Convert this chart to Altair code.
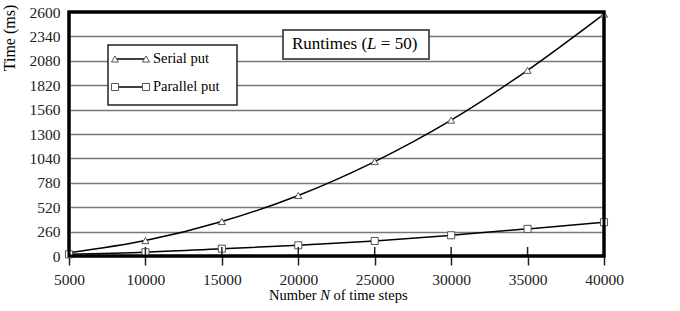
import altair as alt
import pandas as pd

steps = [5000, 10000, 15000, 20000, 25000, 30000, 35000, 40000]
serial_put = [35, 164, 367, 645, 1006, 1448, 1979, 2578]
parallel_put = [18, 40, 78, 114, 160, 221, 289, 360]
series_names = ["Serial put", "Parallel put"]
y_ticks = [0, 260, 520, 780, 1040, 1300, 1560, 1820, 2080, 2340, 2600]

rows = []
for n, s, p in zip(steps, serial_put, parallel_put):
    rows.append({"N": n, "time": s, "series": series_names[0]})
    rows.append({"N": n, "time": p, "series": series_names[1]})
df = pd.DataFrame(rows)
tick_df = pd.DataFrame({"N": steps})
one = pd.DataFrame({"a": [0]})

W, H = 535, 244
SERIF = "Liberation Serif"

x_axis = alt.Axis(values=steps, format="d", title=None, grid=False, domain=False,
                  tickSize=9, tickWidth=1.5, tickColor="#222", labelPadding=7,
                  labelFlush=False, labelOverlap=False)
y_axis = alt.Axis(values=y_ticks, format="d", title=None, grid=True, gridColor="#777",
                  gridWidth=1.3, domain=False, ticks=False, labelPadding=9,
                  labelOverlap=False, labelFlush=False)
x_scale = alt.Scale(domain=[5000, 40000], nice=False, zero=False)
y_scale = alt.Scale(domain=[0, 2600], nice=False)


def xe():
    return alt.X("N:Q", scale=x_scale, axis=x_axis)


def ye():
    return alt.Y("time:Q", scale=y_scale, axis=y_axis)


shape_scale = alt.Scale(domain=series_names, range=["triangle-up", "square"])

lines = alt.Chart(df).mark_line(interpolate="monotone", color="black", strokeWidth=1.5).encode(
    x=xe(), y=ye(), detail="series:N")
points = alt.Chart(df).mark_point(filled=True, fill="white", stroke="#555", strokeWidth=1,
                                  size=50, opacity=1).encode(
    x=xe(), y=ye(), shape=alt.Shape("series:N", scale=shape_scale, legend=None))
up_ticks = alt.Chart(tick_df).mark_rule(color="#222", strokeWidth=1.5).encode(
    x=xe(), y=alt.value(H - 9), y2=alt.value(H))

layers = [lines, points, up_ticks]

# frame
layers.append(alt.Chart(one).mark_rect(fillOpacity=0, stroke="black", strokeWidth=3).encode(
    x=alt.value(0), x2=alt.value(W), y=alt.value(0), y2=alt.value(H)))

# legend box
layers.append(alt.Chart(one).mark_rect(fill="white", stroke="#222", strokeWidth=1.5).encode(
    x=alt.value(39), x2=alt.value(168), y=alt.value(33), y2=alt.value(93)))
shapes = ["triangle-up", "square"]
for i, name in enumerate(series_names):
    ly = 47 + 28 * i
    layers.append(alt.Chart(one).mark_rule(color="black", strokeWidth=1.5).encode(
        x=alt.value(46), x2=alt.value(77), y=alt.value(ly)))
    for lx in (46, 77):
        layers.append(alt.Chart(one).mark_point(shape=shapes[i], filled=True, fill="white",
                                                stroke="#555", strokeWidth=1, size=50,
                                                opacity=1).encode(
            x=alt.value(lx), y=alt.value(ly)))
    layers.append(alt.Chart(one).mark_text(text=name, fontSize=14.5, align="left",
                                           baseline="middle", color="black").encode(
        x=alt.value(84), y=alt.value(ly)))

# title box
layers.append(alt.Chart(one).mark_rect(fill="white", stroke="#222", strokeWidth=1.5).encode(
    x=alt.value(214), x2=alt.value(360), y=alt.value(18), y2=alt.value(47)))
tfs = 17
tx = 223
# (text, style, advance in em including the following space)
parts = [("Runtimes (", "normal", 4.417), ("L", "italic", 0.556 + 0.25),
         ("=", "normal", 0.564 + 0.25), ("50)", "normal", 0)]
for txt, style, w in parts:
    layers.append(alt.Chart(one).mark_text(text=txt, fontSize=tfs, fontStyle=style,
                                           align="left", baseline="middle", color="black").encode(
        x=alt.value(tx), y=alt.value(32)))
    tx += w * tfs

# x axis title
xfs = 14.5
xx = 200
xparts = [("Number", "normal", 3.277 + 0.25), ("N", "italic", 0.667 + 0.25),
          ("of time steps", "normal", 0)]
for txt, style, w in xparts:
    layers.append(alt.Chart(one).mark_text(text=txt, fontSize=xfs, fontStyle=style,
                                           align="left", baseline="middle", color="black").encode(
        x=alt.value(xx), y=alt.value(284)))
    xx += w * xfs

# y axis title
layers.append(alt.Chart(one).mark_text(text="Time (ms)", fontSize=16, angle=270,
                                       align="center", baseline="middle", color="black").encode(
    x=alt.value(-59), y=alt.value(26)))

chart = alt.layer(*layers).properties(
    width=W, height=H,
    padding={"left": 69, "top": 12, "right": 76, "bottom": 55},
    autosize=alt.AutoSizeParams(type="none"),
    background="white",
).configure_view(
    stroke="black", strokeWidth=3
).configure_axis(
    labelFont=SERIF, labelFontSize=15.5, labelColor="#222"
).configure_text(
    font=SERIF
)

chart.save("out.html", embed_options={"renderer": "svg", "actions": False})
